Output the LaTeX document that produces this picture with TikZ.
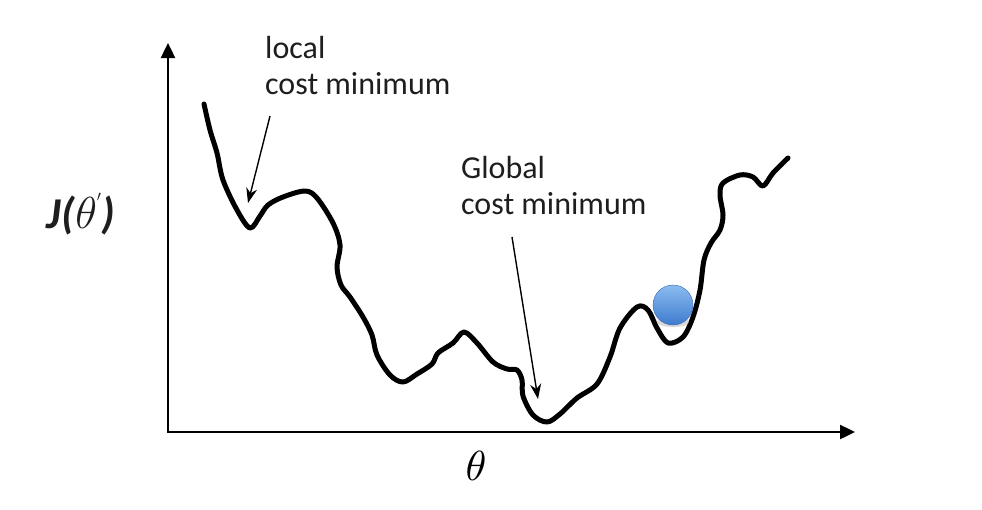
\documentclass[tikz,border=0pt]{standalone}
\usepackage{graphicx}
\usepackage{fontspec}
\setmainfont{Carlito}
\usetikzlibrary{arrows.meta,shadings}
\definecolor{txt}{HTML}{1E1E1E}
\definecolor{balltop}{HTML}{8CBBF0}
\definecolor{ballbot}{HTML}{3E7CCF}
\tikzset{
  axis/.style={line width=2.4pt,black,-{Triangle[length=15pt,width=14pt]}},
  curve/.style={line width=5pt,black,line join=round,line cap=round},
  pointer/.style={line width=1.4pt,black,-{Stealth[length=15pt,width=11pt]}},
  lbl/.style={font=\fontsize{32}{36}\selectfont,text=txt,align=left,inner sep=0pt,anchor=north west},
}
\begin{document}
\begin{tikzpicture}[x=1pt,y=-1pt]
\useasboundingbox (0,0) rectangle (982,509);
\coordinate (O) at (168,432);
\coordinate (Ytop) at (168,43);
\coordinate (Xend) at (855,432);
\draw[axis] (O) -- (Ytop);
\draw[axis] (O) -- (Xend);
\draw[line width=2.4pt] (168,433) -- (168,420);
% curve
\draw[curve] plot[smooth,tension=0.55] coordinates {
(204,104) (210,130) (217,153) (223,180) (237,210) (250,228) (260,216) (268,205)
(283,197) (305,191) (317,198) (333,223) (340,245) (337,267) (341,285) (350,297)
(363,317) (372,335) (377,355) (390,375) (403,382) (417,374) (432,364) (438,353)
(453,343) (464,332) (477,343) (493,362) (507,369) (517,370) (522,380) (523,396)
(533,415) (547,422) (560,414) (577,398) (597,384) (610,357) (620,328) (637,307)
(648,310) (657,328) (668,343) (683,337) (693,317) (700,290) (704,260) (711,243)
(720,230) (723,215) (720,195) (723,183) (740,175) (753,177) (763,186) (773,173)
(788,158)};
% ball
\fill[black!25,opacity=0.6] (673,322) ellipse (16pt and 5pt);
\node[circle,minimum size=40pt,inner sep=0pt,top color=balltop,bottom color=ballbot,draw=ballbot!85!black,line width=0.4pt] (ball) at (673,305) {};
% labels
\node[lbl] (local) at (265,36) {local\\cost minimum};
\node[lbl] (global) at (461,156) {Global\\cost minimum};
\coordinate (la) at (270,116);
\coordinate (lb) at (248,203);
\coordinate (ga) at (512,237);
\coordinate (gb) at (538,399);
\draw[pointer] (la) -- (lb);
\draw[pointer] (ga) -- (gb);
\node[text=txt,inner sep=0pt] (J) at (81,214) {\fontsize{44}{46}\selectfont\bfseries\itshape J(\scalebox{1.8}{$\theta$}\raisebox{1.0ex}{\scalebox{0.6}{$'$}})};
\node[inner sep=0pt] (th) at (476,466) {\scalebox{4.2}{$\theta$}};
\end{tikzpicture}
\end{document}
